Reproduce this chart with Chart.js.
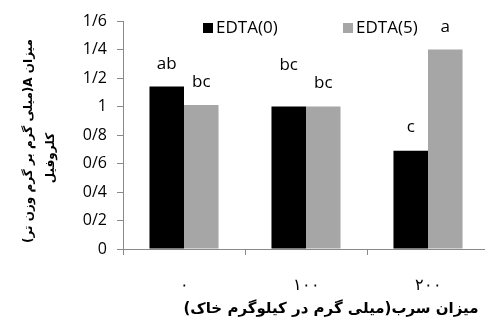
<!DOCTYPE html>
<html>
<head>
<meta charset="utf-8">
<script src="https://cdn.jsdelivr.net/npm/chart.js@4.4.0/dist/chart.umd.min.js"></script>
<style>
  html, body { margin: 0; padding: 0; background: #fff; overflow: hidden; }
  #wrap { width: 490px; height: 322px; }
</style>
</head>
<body>
<div id="wrap"><canvas id="chart"></canvas></div>
<script>
const categories = ['۰', '۱۰۰', '۲۰۰']
const edta0 = [1.14, 1.0, 0.69]
const edta5 = [1.01, 1.0, 1.4]
const letters0 = ['ab', 'bc', 'c']
const letters5 = ['bc', 'bc', 'a']
// height (in y units) at which each letter sits
const letterLevel0 = [1.3, 1.29, 0.856]
const letterLevel5 = [1.17, 1.165, 1.56]
const yTickLabels = ['0', '0/2', '0/4', '0/6', '0/8', '1', '1/2', '1/4', '1/6']

const yTitle = ['میزان A(میلی گرم بر گرم وزن تر)', 'کلروفیل']
const xTitle = 'میزان سرب(میلی گرم در کیلوگرم خاک)'

const tickFont = { family: 'Open Sans', size: 16 }
const axisColor = '#898989'

const lettersPlugin = {
  id: 'letters',
  afterDatasetsDraw(chart) {
    const ctx = chart.ctx
    const y = chart.scales.y
    ctx.save()
    ctx.font = '17px "Open Sans"'
    ctx.fillStyle = '#000'
    ctx.textAlign = 'center'
    ctx.textBaseline = 'middle'
    const sets = [[letters0, letterLevel0], [letters5, letterLevel5]]
    sets.forEach(([txt, lvl], di) => {
      chart.getDatasetMeta(di).data.forEach((bar, i) => {
        ctx.fillText(txt[i], bar.x, y.getPixelForValue(lvl[i]))
      })
    })
    ctx.restore()
  },
}

const legendPlugin = {
  id: 'ownLegend',
  afterDraw(chart, args, opts) {
    const ctx = chart.ctx
    ctx.save()
    ctx.font = '17px "Open Sans"'
    ctx.textBaseline = 'middle'
    ctx.textAlign = 'left'
    chart.data.datasets.forEach((ds, i) => {
      const x = opts.xs[i]
      ctx.fillStyle = ds.backgroundColor
      ctx.fillRect(x, opts.y - 5, 10, 10)
      ctx.fillStyle = '#000'
      ctx.fillText(ds.label, x + 13, opts.y)
    })
    ctx.restore()
  },
}

// axis titles are right-to-left text, drawn by hand so the direction is right
const titlesPlugin = {
  id: 'rtlTitles',
  afterDraw(chart) {
    const ctx = chart.ctx
    ctx.save()
    ctx.direction = 'rtl'
    ctx.fillStyle = '#000'
    ctx.textAlign = 'center'
    ctx.textBaseline = 'middle'
    ctx.font = 'bold 15px "DejaVu Sans"'
    ctx.fillText(xTitle, 331, 309)
    ctx.font = 'bold 12px "DejaVu Sans"'
    const lines = [[29, 141], [51, 158]]
    yTitle.forEach((t, i) => {
      ctx.save()
      ctx.translate(lines[i][0], lines[i][1])
      ctx.rotate(-Math.PI / 2)
      ctx.fillText(t, 0, 0)
      ctx.restore()
    })
    ctx.restore()
  },
}

new Chart(document.getElementById('chart'), {
  type: 'bar',
  data: {
    labels: categories,
    datasets: [
      { label: 'EDTA(0)', data: edta0, backgroundColor: '#000000' },
      { label: 'EDTA(5)', data: edta5, backgroundColor: '#a6a6a6' },
    ],
  },
  plugins: [lettersPlugin, legendPlugin, titlesPlugin],
  options: {
    responsive: true,
    maintainAspectRatio: false,
    animation: false,
    layout: { padding: { top: 21, right: 1, left: 0, bottom: 0 } },
    datasets: {
      bar: { categoryPercentage: 0.566, barPercentage: 1 },
    },
    plugins: {
      legend: { display: false },
      tooltip: { enabled: false },
      ownLegend: { xs: [203, 343], y: 28 },
    },
    scales: {
      x: {
        grid: {
          display: true,
          drawOnChartArea: false,
          offset: true,
          tickLength: 6,
          color: axisColor,
        },
        border: { color: axisColor },
        ticks: { font: tickFont, color: '#000', padding: 21 },
        afterFit(scale) { scale.height = 73 },
      },
      y: {
        min: 0,
        max: 1.6,
        grid: {
          display: true,
          drawOnChartArea: false,
          tickLength: 6,
          color: axisColor,
        },
        border: { color: axisColor },
        ticks: {
          stepSize: 0.2,
          font: tickFont,
          color: '#000',
          padding: 10,
          callback: (v, i) => yTickLabels[i],
        },
        afterFit(scale) { scale.width = 123 },
      },
    },
  },
})
</script>
</body>
</html>
